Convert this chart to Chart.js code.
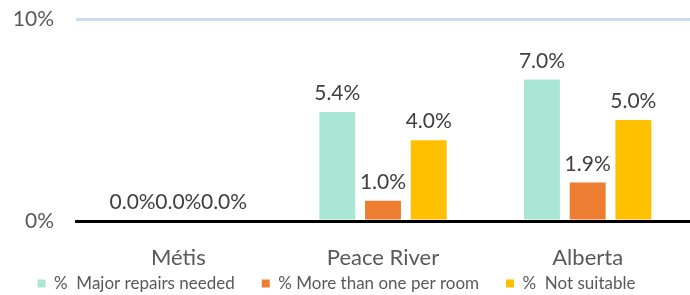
<!DOCTYPE html>
<html>
<head>
<meta charset="utf-8">
<script src="https://cdn.jsdelivr.net/npm/chart.js@4"></script>
<style>
html,body{margin:0;padding:0;background:#fff;}
#wrap{width:690px;height:295px;position:relative;}
</style>
</head>
<body>
<div id="wrap"><canvas id="c"></canvas></div>
<script>
const categories = ["Métis", "Peace River", "Alberta"];
const seriesNames = ["%  Major repairs needed", "% More than one per room", "%  Not suitable"];
const majorRepairs = [0.0, 5.4, 7.0];
const moreThanOne = [0.0, 1.0, 1.9];
const notSuitable = [0.0, 4.0, 5.0];
const yTicks = [0, 10];

const colors = ["#a9e7d4", "#ed7d31", "#ffc000"];
const FONT = "Lato, 'Open Sans', sans-serif";

const labelPlugin = {
  id: "barLabels",
  afterLayout(chart) {
    if (chart.legend) { chart.legend.right -= 17; }
  },
  afterDatasetsDraw(chart) {
    const ctx = chart.ctx;
    ctx.save();
    ctx.font = "21px " + FONT;
    ctx.fillStyle = "#404040";
    ctx.textAlign = "center";
    ctx.textBaseline = "bottom";
    chart.data.datasets.forEach((ds, i) => {
      const meta = chart.getDatasetMeta(i);
      meta.data.forEach((bar, j) => {
        const v = ds.data[j];
        ctx.fillText(v.toFixed(1) + "%", bar.x, bar.y - 8);
      });
    });
    ctx.restore();
  }
};

new Chart(document.getElementById("c"), {
  type: "bar",
  data: {
    labels: categories,
    datasets: [
      { label: seriesNames[0], data: majorRepairs, backgroundColor: colors[0] },
      { label: seriesNames[1], data: moreThanOne, backgroundColor: colors[1] },
      { label: seriesNames[2], data: notSuitable, backgroundColor: colors[2] }
    ]
  },
  options: {
    responsive: true,
    maintainAspectRatio: false,
    animation: false,
    layout: { padding: { top: 0, right: 0, left: 0, bottom: -7 } },
    datasets: { bar: { categoryPercentage: 0.67, barPercentage: 0.786 } },
    plugins: {
      legend: {
        position: "bottom",
        labels: {
          boxWidth: 8, boxHeight: 8, padding: 27,
          color: "#595959",
          font: { family: FONT, size: 17 }
        }
      },
      tooltip: { enabled: false }
    },
    scales: {
      x: {
        grid: { display: false, drawTicks: false },
        border: { display: true, color: "#000", width: 3 },
        ticks: { color: "#595959", font: { family: FONT, size: 22 }, padding: 24 },
        afterFit(scale) {
          scale.height = 27;
          scale._computeLabelArea = () => undefined;
        }
      },
      y: {
        min: yTicks[0], max: yTicks[1],
        afterBuildTicks(scale) { scale.ticks = yTicks.map(v => ({ value: v })); },
        grid: { color: "#c8dbf1", lineWidth: 3, drawTicks: false },
        border: { display: false },
        ticks: {
          color: "#595959", padding: 22,
          font: { family: FONT, size: 21 },
          callback: v => v + "%"
        },
        afterFit(scale) { scale.width = 76; scale.paddingTop = 19; scale.paddingBottom = 0; }
      }
    }
  },
  plugins: [labelPlugin]
});
</script>
</body>
</html>
